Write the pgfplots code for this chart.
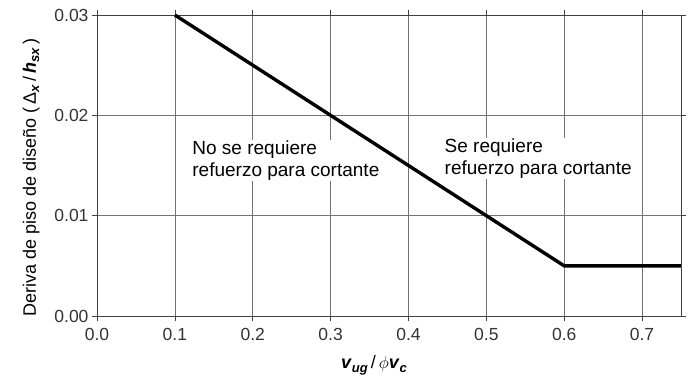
\documentclass[border=0pt]{standalone}
\usepackage{fontspec}
\setmainfont{Liberation Sans}
\usepackage{pgfplots}
\pgfplotsset{compat=1.18}
\newcommand{\bi}[1]{\textbf{\textit{#1}}}
\newcommand{\sub}[1]{\raisebox{-0.35ex}{\fontsize{13}{14}\selectfont\bi{#1}}}
\begin{document}
\begin{tikzpicture}
\useasboundingbox (-97pt,-67pt) rectangle (592pt,316pt);
\begin{axis}[
  scale only axis,
  width=584pt, height=301pt,
  xmin=0, xmax=0.75, ymin=0, ymax=0.03,
  xtick={0,0.1,0.2,0.3,0.4,0.5,0.6,0.7},
  xticklabels={0.0,0.1,0.2,0.3,0.4,0.5,0.6,0.7},
  ytick={0,0.01,0.02,0.03},
  yticklabels={0.00,0.01,0.02,0.03},
  scaled ticks=false,
  grid=major,
  major grid style={black!55, line width=0.7pt},
  axis line style={black!75, line width=0.9pt},
  major tick length=5pt,
  tick style={black!75, line width=0.7pt},
  tick align=outside,
  ticklabel style={font=\fontsize{17.5}{19}\selectfont, text=black!80},
  xticklabel style={yshift=-4pt},
  label style={font=\fontsize{18}{20}\selectfont},
  xlabel={\bi{v}\sub{ug}\,/\,$\phi$\bi{v}\sub{c}},
  ylabel={Deriva de piso de diseño (\,Δ\sub{x}\,/\,\bi{h}\sub{sx}\,)},
  xlabel style={yshift=-8pt, xshift=-15pt},
  ylabel style={yshift=8pt, xshift=-12pt},
  clip=false,
]
\node[anchor=west, align=left, font=\fontsize{19}{22}\selectfont, fill=white, inner sep=1pt] at (axis cs:0.121,0.0155) {No se requiere\\refuerzo para cortante};
\node[anchor=west, align=left, font=\fontsize{19}{22}\selectfont, fill=white, inner sep=1pt] at (axis cs:0.445,0.0157) {Se requiere\\refuerzo para cortante};
\addplot[black, line width=3.4pt] coordinates {(0.1,0.03) (0.3,0.02) (0.5,0.01) (0.6,0.005) (0.75,0.005)};
\end{axis}
\end{tikzpicture}
\end{document}
